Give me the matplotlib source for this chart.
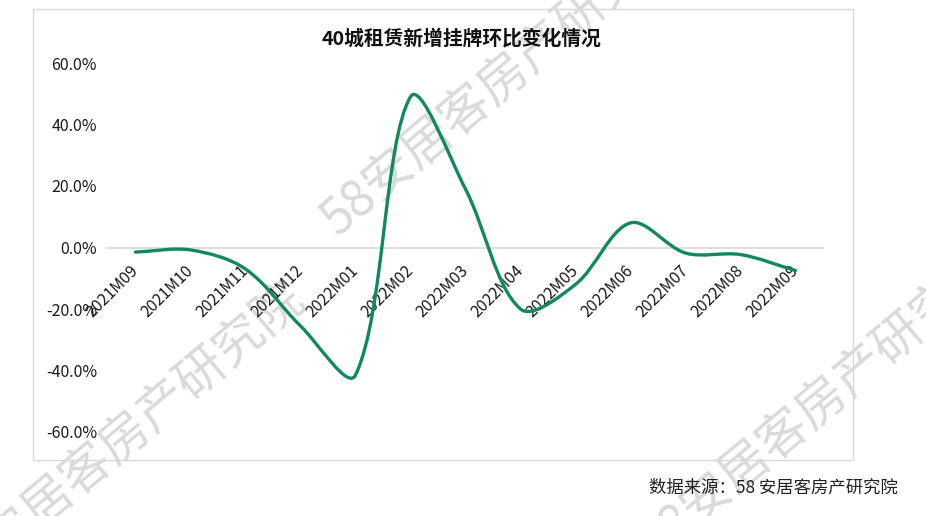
import numpy as np
import matplotlib
matplotlib.use('Agg')
import matplotlib.pyplot as plt
from matplotlib.path import Path
from matplotlib.patches import PathPatch, Rectangle
from matplotlib.ticker import FuncFormatter

plt.rcParams['font.family'] = ['Noto Sans CJK SC', 'DejaVu Sans']

# data (month-on-month change, %)
months = ['2021M09', '2021M10', '2021M11', '2021M12', '2022M01', '2022M02',
          '2022M03', '2022M04', '2022M05', '2022M06', '2022M07', '2022M08',
          '2022M09']
values = [-1.5, -0.8, -7.0, -25.5, -41.5, 49.0, 19.0, -20.0, -12.0, 8.0,
          -1.8, -2.3, -7.5]
yticks = [-60, -40, -20, 0, 20, 40, 60]

title = '40城租赁新增挂牌环比变化情况'
source = '数据来源：58 安居客房产研究院'
watermark = '58安居客房产研究院'

W, H = 926, 516
fig = plt.figure(figsize=(W / 100, H / 100), dpi=100)

# chart frame
fig.add_artist(Rectangle((33 / W, 1 - 460 / H), (853 - 33) / W, (460 - 9) / H,
                         transform=fig.transFigure, fill=False,
                         ec='#d9d9d9', lw=1, zorder=-2))

ax = fig.add_axes([108 / W, 1 - 432 / H, (823 - 108) / W, (432 - 63) / H])
ax.patch.set_alpha(0)
ax.set_xlim(-0.5, len(months) - 0.5)
ax.set_ylim(-60, 60)
ax.set_yticks(yticks)
ax.yaxis.set_major_formatter(FuncFormatter(lambda v, p: f'{v:.1f}%'))
for s in ['top', 'right', 'left']:
    ax.spines[s].set_visible(False)
ax.spines['bottom'].set_position(('data', 0))
ax.spines['bottom'].set_color('#d9d9d9')
ax.spines['bottom'].set_linewidth(1.2)
ax.set_xticks(range(len(months)))
ax.set_xticklabels(months, rotation=45, ha='right', va='center',
                   rotation_mode='anchor')
ax.tick_params(axis='both', length=0, labelsize=11.5, labelcolor='#1a1a1a')
ax.tick_params(axis='x', pad=15)
ax.tick_params(axis='y', pad=8)

# smoothed line (excel-like bezier through the points)
pts = ax.transData.transform(np.column_stack([np.arange(len(values)), values]))
n = len(pts)
verts = [pts[0]]
codes = [Path.MOVETO]
for i in range(n - 1):
    p0 = pts[i - 1] if i > 0 else pts[i]
    p1 = pts[i]
    p2 = pts[i + 1]
    p3 = pts[i + 2] if i + 2 < n else pts[i + 1]
    d01 = np.linalg.norm(p1 - p0)
    d12 = np.linalg.norm(p2 - p1)
    d23 = np.linalg.norm(p3 - p2)
    c1 = p1 + (p2 - p0) * d12 / (d01 + d12) / 3
    c2 = p2 - (p3 - p1) * d12 / (d12 + d23) / 3
    verts += [c1, c2, p2]
    codes += [Path.CURVE4] * 3
verts = ax.transData.inverted().transform(np.array(verts))
ax.add_patch(PathPatch(Path(verts, codes), fill=False, ec='#12895b', lw=2.4,
                       capstyle='round', joinstyle='round', zorder=3))

fig.text(462 / W, 1 - 38 / H, title, ha='center', va='center', fontsize=14.2,
         fontweight='bold', color='#111111')
fig.text(898 / W, 1 - 488 / H, source, ha='right', va='center', fontsize=12.5,
         color='#222222')

# diagonal watermarks, partly running off the picture as in the original
for cx, cy in [(503, 80), (124, 439), (821, 404)]:
    fig.text(cx / W, 1 - cy / H, watermark, ha='center', va='center',
             rotation=40, rotation_mode='anchor', fontsize=36,
             fontweight='light', color='#dadada', zorder=-1)

fig.savefig('out.png', dpi=100)
